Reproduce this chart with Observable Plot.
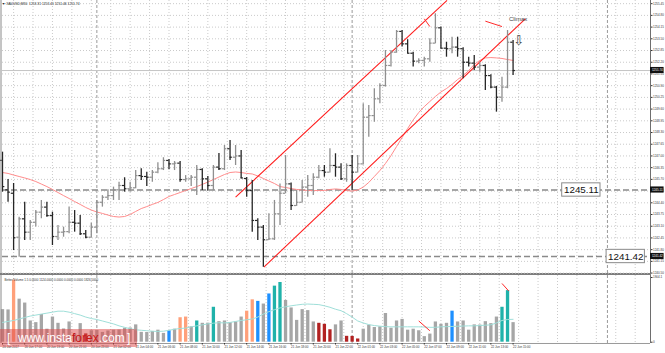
<!DOCTYPE html>
<html><head><meta charset="utf-8">
<script src="https://cdn.jsdelivr.net/npm/d3@7"></script>
<script src="https://cdn.jsdelivr.net/npm/@observablehq/plot@0.6"></script>
<style>
html,body{margin:0;padding:0;background:#fff;}
#chart{position:relative;width:665px;height:353px;overflow:hidden;font-family:"Liberation Sans",Arial,sans-serif;background:#fff;}
#chart svg{display:block;}
#sep{height:2px;width:651px;background:#7d7d7d;}
#title{position:absolute;left:2px;top:2px;font-size:3.3px;color:#222;white-space:nowrap;}
#wm{position:absolute;left:0;top:329px;width:137px;height:18px;background:rgba(222,70,70,0.5);color:#fff;font-size:12px;line-height:18px;white-space:nowrap;}
#wm .b{position:absolute;top:0;}
#wm .t{position:absolute;left:18px;top:0;}
#wm .fx{color:#c81818;}
</style></head>
<body>
<div id="chart">
  <div id="main"></div>
  <div id="sep"></div>
  <div id="vol"></div>
  <div id="title">▼ XAUUSD,M30 &nbsp;1253.31 1253.41 1251.46 1251.74</div>
  <div id="wm"><span class="b" style="left:7px">[</span><span class="t">www.insta<span class="fx">forex</span>.com</span><span class="b" style="left:127px">]</span></div>
</div>
<script>
// ---- price data (XAUUSD M30, bar index 0..92) ----
const opens  = [1246.75,1245.12,1244.93,1242.49,1243.51,1242.77,1243.32,1243.88,1244.16,1243.69,
1242.53,1242.77,1242.80,1243.32,1243.27,1242.68,1242.49,1243.05,1244.43,1244.71,
1244.80,1245.12,1245.36,1245.18,1245.23,1245.91,1245.86,1245.82,1246.10,1246.29,
1246.75,1246.56,1246.60,1245.69,1245.73,1245.82,1246.25,1245.73,1245.36,1246.38,
1246.29,1247.40,1246.93,1247.00,1245.75,1245.08,1243.42,1243.05,1242.35,1242.40,
1243.79,1244.93,1245.45,1244.25,1244.43,1245.27,1245.36,1245.82,1246.19,1246.10,
1246.47,1246.38,1245.73,1246.47,1246.10,1246.56,1249.15,1249.24,1250.17,1250.91,
1252.02,1252.76,1253.91,1253.22,1252.70,1252.26,1252.30,1252.39,1253.26,1254.11,
1252.98,1252.95,1253.04,1252.95,1252.20,1252.15,1251.93,1252.02,1251.46,1250.82,
1250.26,1250.82,1253.31];
const highs  = [1247.21,1245.69,1245.47,1243.60,1244.43,1243.42,1243.97,1244.53,1244.43,1243.88,
1243.14,1243.05,1244.16,1243.97,1243.69,1242.86,1243.27,1244.53,1244.80,1245.12,
1245.27,1245.54,1245.79,1245.54,1246.19,1246.29,1246.10,1246.19,1246.62,1246.90,
1246.80,1246.69,1246.69,1245.91,1245.91,1246.47,1246.29,1245.86,1246.47,1247.14,
1247.58,1247.86,1247.58,1247.30,1245.80,1245.64,1243.51,1243.14,1243.79,1244.53,
1245.45,1247.02,1245.50,1245.08,1245.64,1245.91,1246.01,1246.47,1246.47,1247.40,
1247.12,1246.56,1246.56,1247.02,1247.02,1249.89,1249.80,1250.73,1251.00,1252.85,
1252.85,1253.96,1253.96,1253.45,1252.76,1252.39,1252.48,1253.50,1254.89,1254.15,
1253.31,1253.59,1253.59,1253.00,1252.48,1252.57,1252.20,1252.06,1251.50,1250.86,
1251.37,1253.96,1253.41];
const lows   = [1244.99,1244.43,1241.75,1241.38,1242.31,1242.31,1243.05,1243.51,1243.60,1242.03,
1242.31,1242.49,1242.68,1242.77,1242.58,1242.40,1242.45,1242.68,1244.16,1244.53,
1244.53,1244.53,1244.99,1244.99,1245.18,1245.64,1245.30,1245.54,1246.01,1246.19,
1246.23,1246.19,1245.54,1245.54,1245.30,1244.80,1245.08,1245.04,1245.08,1246.19,
1246.19,1246.75,1246.47,1245.73,1244.71,1242.77,1242.31,1240.83,1242.31,1242.31,
1243.14,1244.90,1243.97,1244.20,1244.40,1244.71,1244.80,1245.73,1245.82,1246.05,
1245.82,1245.64,1245.54,1245.08,1246.05,1246.50,1248.04,1248.87,1249.89,1250.82,
1251.93,1252.70,1253.04,1252.67,1251.93,1252.11,1251.93,1252.20,1253.22,1252.95,
1252.48,1252.67,1252.48,1251.28,1251.93,1251.74,1251.65,1250.63,1250.73,1249.43,
1249.98,1250.73,1251.46];
const closes = [1245.30,1244.99,1242.46,1243.51,1242.77,1243.32,1243.88,1244.16,1243.69,1242.53,
1242.77,1242.80,1243.32,1243.27,1242.68,1242.49,1243.05,1244.43,1244.71,1244.80,
1245.12,1245.36,1245.18,1245.23,1245.91,1245.86,1245.82,1246.10,1246.29,1246.75,
1246.56,1246.60,1245.69,1245.73,1245.82,1246.25,1245.73,1245.36,1246.38,1246.29,
1247.40,1246.93,1247.00,1245.78,1245.08,1243.42,1243.05,1242.35,1242.40,1243.79,
1244.93,1245.45,1244.25,1244.43,1245.27,1245.36,1245.82,1246.19,1246.10,1246.47,
1246.38,1245.73,1246.47,1246.10,1246.56,1249.15,1249.24,1250.17,1250.91,1252.02,
1252.76,1253.91,1253.22,1252.70,1252.26,1252.30,1252.39,1253.26,1254.11,1252.98,
1252.95,1253.04,1252.95,1252.20,1252.15,1251.93,1252.02,1251.46,1250.82,1250.26,
1250.82,1253.31,1251.74];
const movingAvg = [1246.08,1246.03,1245.94,1245.86,1245.78,1245.69,1245.58,1245.44,1245.30,1245.14,
1244.97,1244.80,1244.64,1244.47,1244.31,1244.14,1244.00,1243.89,1243.81,1243.72,
1243.64,1243.61,1243.64,1243.75,1243.92,1244.08,1244.19,1244.31,1244.42,1244.58,
1244.75,1244.86,1244.97,1245.08,1245.19,1245.30,1245.42,1245.55,1245.69,1245.83,
1245.97,1246.08,1246.11,1246.08,1246.03,1246.00,1245.89,1245.75,1245.61,1245.47,
1245.30,1245.25,1245.19,1245.14,1245.11,1245.08,1245.08,1245.08,1245.08,1245.14,
1245.17,1245.14,1245.08,1245.05,1245.11,1245.27,1245.53,1245.86,1246.19,1246.58,
1247.02,1247.52,1248.02,1248.52,1249.00,1249.41,1249.74,1250.02,1250.30,1250.55,
1250.74,1250.97,1251.24,1251.46,1251.74,1252.08,1252.30,1252.44,1252.46,1252.44,
1252.41,1252.35,1252.30];
// ---- Better Volume ----
const volumes = [959,950,1826,1267,1152,625,576,815,383,740,
556,390,596,239,547,245,337,346,288,330,
354,358,412,418,510,290,286,317,354,259,
337,383,720,740,452,625,556,560,1028,605,
625,576,596,740,913,1247,1201,1123,1420,1650,
1757,1230,1008,642,959,930,596,556,527,366,
510,625,173,170,95,383,498,432,452,844,
412,625,671,354,383,337,164,239,596,527,
556,913,596,625,354,510,505,605,547,740,
1028,1518,576];
const volumeAvg = [582,611,639,683,726,769,798,827,855,884,
913,913,884,841,798,740,697,668,625,582,
539,481,438,395,366,351,337,323,317,323,
351,380,403,415,452,481,510,539,559,573,
567,582,611,639,660,683,740,827,899,956,
1008,1043,1071,1094,1115,1123,1115,1106,1071,1028,
971,927,841,740,625,567,518,490,472,458,
452,452,452,452,452,452,446,438,438,452,
458,464,469,475,481,481,490,501,510,567,
639,668,674];
// g=gray, o=climax low (orange), b=blue, t=teal, r=churn (red)
const volumeKind = [..."ggoggggggg" + "gggggrgggg" + "gggggggggg" + "bgoogtggtg" + "ggggoobgbt" + "tggggggrrr" + "ggrrrggggg" + "gggggggggg" + "gbgggggggg" + "ttg"];
const volumeColors = {g: "#a6a6a6", o: "#ffa07a", b: "#1e90ff", t: "#20b2aa", r: "#b22222"};

// ---- axes / annotations ----
const priceTicks = [1255.45,1254.80,1254.15,1253.50,1252.85,1252.20,1251.55,1250.90,1250.25,1249.60,1248.95,1248.30,1247.65,1247.00,1246.35,1245.70,1245.05,1244.40,1243.75,1243.10,1242.45,1241.80,1241.15,1240.50];
const timeBars = [0,4,8,12,16,20,24,28,32,36,40,44,48,52,56,60,64,68,72,76,80,84,88,92];
const timeLabels = ["20 Jun 2017","20 Jun 17:00","20 Jun 19:00","20 Jun 21:00","20 Jun 23:00","21 Jun 02:00","21 Jun 04:00","21 Jun 06:00","21 Jun 08:00","21 Jun 10:00","21 Jun 12:00","21 Jun 14:00","21 Jun 16:00","21 Jun 18:00","21 Jun 20:00","21 Jun 22:00","22 Jun 01:00","22 Jun 03:00","22 Jun 05:00","22 Jun 07:00","22 Jun 09:00","22 Jun 11:00","22 Jun 13:00","22 Jun 15:00"];
const daySeparators = [17, 63, 109];
const gridBars = [2,5.5,9,12.5,16,19.5,23,26.5,30,33.5,37,40.5,44,47.5,51,54.5,58,61.5,65,68.5,72,75.5,79,82.5,86,89.5,93,96.5,100,103.5,107,110.5,114];
const levelPrices = [1245.11, 1241.42];
const levelLabelBars = [104.3, 112.3];
const channelFrom = [[42.0, 1244.71], [47.1, 1240.83]];
const channelTo   = [[80.1, 1255.63], [94.2, 1254.61]];
const priceMarks = [[76.0, 1254.61, 77.0, 1254.18], [87.0, 1254.48, 90.0, 1254.18]];
const volumeMarks = [[75.0, 625, 77.0, 337], [90.0, 1728, 91.2, 1509]];
const climaxNote = {bar: 92.9, price: 1254.57, label: "Climax"};
const arrowNote = {bar: 93.0, price: 1253.40, label: "⇩"};
const indicatorTitle = "Better Volume 1.5 0.0000 1124.0000 0.0000 0.0000 0.0000 1826.0000";
const volumeTicks = [0, 1904.1];
const volumeTickLabels = ["0", "1904.1"];

// ---- build ----
const N = closes.length;
const bars = d3.range(N).map(i => ({i, o: opens[i], h: highs[i], l: lows[i], c: closes[i], ma: movingAvg[i]}));
const volRows = d3.range(N).map(i => ({i, v: volumes[i], avg: volumeAvg[i], k: volumeKind[i]}));
const lastClose = closes[N - 1];
const xDom = [0, 116.76];
const xEnd = xDom[1];
const up = "#8f8f8f", down = "#262626";
const barColor = d => d.c >= d.o ? up : down;
const grid = {stroke: "#cacaca", strokeDasharray: "1,2", strokeWidth: 1};
const channelRows = channelFrom.map((f, k) => ({b1: f[0], p1: f[1], b2: channelTo[k][0], p2: channelTo[k][1]}));
const markRows = priceMarks.map(m => ({b1: m[0], p1: m[1], b2: m[2], p2: m[3]}));
const levelRows = levelPrices.map((p, k) => ({price: p, bar: levelLabelBars[k]}));
const axisBoxes = [lastClose, 1245.11, 1241.42];
const timeLabelMap = new Map(timeBars.map((b, k) => [b, timeLabels[k]]));
const volLabelMap = new Map(volumeTicks.map((v, k) => [v, volumeTickLabels[k]]));
const styleBase = {fontFamily: "Liberation Sans, Arial, sans-serif", background: "transparent", color: "#333", overflow: "visible"};

const main = Plot.plot({
  width: 665, height: 273, marginLeft: 2, marginRight: 15, marginTop: 0, marginBottom: 0,
  x: {domain: xDom, axis: null},
  y: {domain: [1240.643, 1255.626], range: [270, 0], axis: null},
  style: styleBase,
  marks: [
    Plot.ruleY(priceTicks, grid),
    Plot.ruleX(gridBars, grid),
    Plot.ruleX(daySeparators, {stroke: "#9a9a9a", strokeDasharray: "3,2"}),
    Plot.ruleY([lastClose], {stroke: "#c6c6c6"}),
    Plot.ruleY(levelPrices, {stroke: "#8a8a8a", strokeDasharray: "6,3", strokeWidth: 1.3}),
    Plot.line(bars, {x: "i", y: "ma", stroke: "#ff8c8c", strokeWidth: 1}),
    Plot.link(channelRows, {x1: "b1", y1: "p1", x2: "b2", y2: "p2", stroke: "#ff1a1a", strokeWidth: 1.05, clip: true}),
    Plot.link(markRows, {x1: "b1", y1: "p1", x2: "b2", y2: "p2", stroke: "#ff2a2a", strokeWidth: 1}),
    Plot.ruleX(bars, {x: "i", y1: "l", y2: "h", stroke: barColor, strokeWidth: 1.3}),
    Plot.ruleY(bars, {x1: d => d.i - 0.42, x2: "i", y: "o", stroke: barColor, strokeWidth: 1.2}),
    Plot.ruleY(bars, {x1: "i", x2: d => d.i + 0.42, y: "c", stroke: barColor, strokeWidth: 1.2}),
    Plot.rect(levelRows, {x1: d => d.bar - 3.45, x2: d => d.bar + 3.45, y1: d => d.price - 0.37, y2: d => d.price + 0.37, fill: "#fff", stroke: "#8a8a8a"}),
    Plot.text(levelRows, {x: "bar", y: "price", text: d => d.price.toFixed(2), fontSize: 9.8, fill: "#111"}),
    Plot.text([climaxNote], {x: "bar", y: "price", text: "label", fontSize: 6, fill: "#444"}),
    Plot.text([arrowNote], {x: "bar", y: "price", text: "label", fontSize: 13, fill: "#444", fontFamily: "DejaVu Sans"}),
    Plot.ruleX([xEnd], {stroke: "#6e6e6e"}),
    Plot.axisY(priceTicks, {anchor: "right", tickFormat: d => d.toFixed(2), fontSize: 3, tickSize: 1.5, tickPadding: 1, label: null}),
    Plot.rect(axisBoxes, {x1: () => xEnd, x2: () => xEnd + 2.45, y1: d => d - 0.17, y2: d => d + 0.17, fill: "#111"}),
    Plot.text(axisBoxes, {x: () => xEnd, dx: 6.8, y: d => d, text: d => d.toFixed(2), fill: "#fff", fontSize: 3}),
    Plot.ruleX([xDom[0]], {dx: -1.5, stroke: "#8a8a8a"})
  ]
});
document.getElementById("main").appendChild(main);

const vol = Plot.plot({
  width: 665, height: 78, marginLeft: 2, marginRight: 15, marginTop: 0, marginBottom: 10,
  x: {domain: xDom, axis: null},
  y: {domain: [0, 1904.1], range: [66.7, 2], axis: null},
  style: styleBase,
  marks: [
    Plot.ruleX(gridBars, grid),
    Plot.ruleX(daySeparators, {stroke: "#9a9a9a", strokeDasharray: "3,2"}),
    Plot.ruleX(volRows, {x: "i", y1: () => 0, y2: "v", stroke: d => volumeColors[d.k], strokeWidth: 3.3}),
    Plot.line(volRows, {x: "i", y: "avg", stroke: "#9fdfd9", strokeWidth: 1}),
    Plot.link(volumeMarks, {x1: d => d[0], y1: d => d[1], x2: d => d[2], y2: d => d[3], stroke: "#ff2a2a", strokeWidth: 1}),
    Plot.text([indicatorTitle], {frameAnchor: "top-left", dx: 2, dy: 3, text: d => d, fontSize: 3, textAnchor: "start", fill: "#333"}),
    Plot.ruleY([0], {dy: 1.3, stroke: "#9a9a9a"}),
    Plot.ruleX([xEnd], {stroke: "#6e6e6e"}),
    Plot.axisY(volumeTicks, {anchor: "right", tickFormat: d => volLabelMap.get(d), fontSize: 3, tickSize: 1.5, tickPadding: 1, label: null}),
    Plot.axisX(timeBars, {anchor: "bottom", tickFormat: d => timeLabelMap.get(d), fontSize: 3, tickSize: 1.5, tickPadding: 1, textAnchor: "start", label: null}),
    Plot.ruleX([xDom[0]], {dx: -1.5, stroke: "#8a8a8a"})
  ]
});
document.getElementById("vol").appendChild(vol);
</script>
</body></html>
